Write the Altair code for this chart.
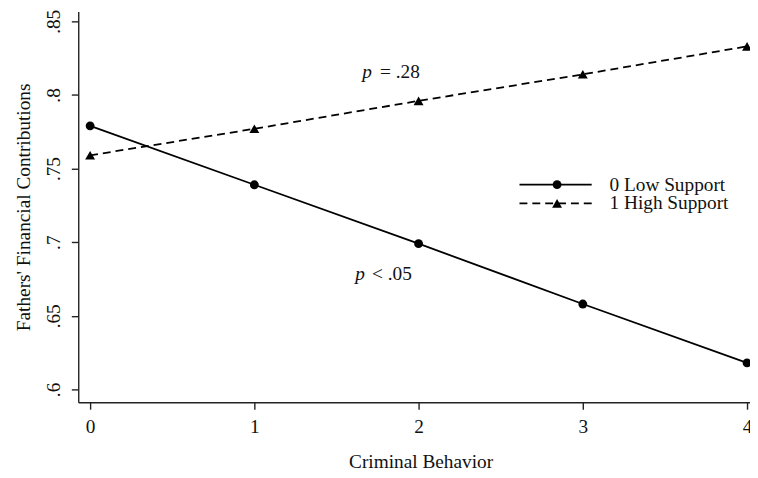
import altair as alt
import pandas as pd

# ---- data ----
criminal = [0, 1, 2, 3, 4]
low_support = [0.779, 0.739, 0.699, 0.658, 0.618]
high_support = [0.759, 0.777, 0.796, 0.814, 0.833]
series_names = ["0 Low Support", "1 High Support"]
x_ticks = [0, 1, 2, 3, 4]
y_ticks = [0.6, 0.65, 0.7, 0.75, 0.8, 0.85]
annot_italic = ["p", "p"]
annot_rest = ["= .28", "< .05"]

FONT = "Liberation Serif"
INK = "#111111"
FS = 19.5

df_low = pd.DataFrame({"x": criminal, "y": low_support})
df_high = pd.DataFrame({"x": criminal, "y": high_support})

xs = alt.Scale(domain=[-0.0723, 4.018], nice=False, zero=False)
ys = alt.Scale(domain=[0.5913, 0.8567], nice=False, zero=False)

x_enc = alt.X("x:Q", scale=xs, title="Criminal Behavior",
              axis=alt.Axis(values=x_ticks, format="d", labelPadding=9,
                            titlePadding=16, titleX=346, titleAlign="center"))
y_enc = alt.Y("y:Q", scale=ys, title="Fathers' Financial Contributions",
              axis=alt.Axis(values=y_ticks,
                            labelExpr="replace(format(datum.value, '.2~f'), '0.', '.')",
                            labelAngle=-90, labelAlign="center",
                            labelBaseline="alphabetic", labelPadding=12,
                            titlePadding=10))

LW = 1.8
low_line = alt.Chart(df_low).mark_line(color="black", strokeWidth=LW).encode(x=x_enc, y=y_enc)
low_pts = alt.Chart(df_low).mark_point(shape="circle", filled=True, color="black",
                                       size=80, opacity=1).encode(x="x:Q", y="y:Q")
high_line = alt.Chart(df_high).mark_line(color="black", strokeWidth=LW,
                                         strokeDash=[8, 5]).encode(x="x:Q", y="y:Q")
high_pts = alt.Chart(df_high).mark_point(shape="triangle-up", filled=True, color="black",
                                         size=100, opacity=1).encode(x="x:Q", y="y:Q")

# annotations (pixel positions inside the plot area)
ann_df = pd.DataFrame({"p": annot_italic, "rest": annot_rest, "row": [0, 1]})
a0 = ann_df[ann_df.row == 0]
a1 = ann_df[ann_df.row == 1]
ann_p1 = alt.Chart(a0).mark_text(
    font=FONT, fontSize=FS, fontStyle="italic", align="left", baseline="alphabetic",
    color=INK).encode(text="p:N", x=alt.value(287), y=alt.value(67))
ann_r1 = alt.Chart(a0).mark_text(
    font=FONT, fontSize=FS, align="left", baseline="alphabetic",
    color=INK).encode(text="rest:N", x=alt.value(305), y=alt.value(67))
ann_p2 = alt.Chart(a1).mark_text(
    font=FONT, fontSize=FS, fontStyle="italic", align="left", baseline="alphabetic",
    color=INK).encode(text="p:N", x=alt.value(280), y=alt.value(271))
ann_r2 = alt.Chart(a1).mark_text(
    font=FONT, fontSize=FS, align="left", baseline="alphabetic",
    color=INK).encode(text="rest:N", x=alt.value(297), y=alt.value(271))

# manual legend
leg_df = pd.DataFrame({"name": series_names})
leg0 = leg_df.iloc[[0]]
leg1 = leg_df.iloc[[1]]
LX0, LX1, LM, LT = 446, 519, 484, 537
LY0, LY1 = 175, 194
leg_line0 = alt.Chart(leg0).mark_rule(color="black", strokeWidth=LW).encode(
    x=alt.value(LX0), x2=alt.value(LX1), y=alt.value(LY0))
leg_pt0 = alt.Chart(leg0).mark_point(shape="circle", filled=True, color="black",
                                     size=80, opacity=1).encode(x=alt.value(LM), y=alt.value(LY0))
leg_txt0 = alt.Chart(leg0).mark_text(font=FONT, fontSize=FS, align="left", baseline="middle",
                                     color=INK).encode(text="name:N", x=alt.value(LT), y=alt.value(LY0))
leg_line1 = alt.Chart(leg1).mark_rule(color="black", strokeWidth=LW, strokeDash=[8, 5]).encode(
    x=alt.value(LX0), x2=alt.value(LX1), y=alt.value(LY1))
leg_pt1 = alt.Chart(leg1).mark_point(shape="triangle-up", filled=True, color="black",
                                     size=100, opacity=1).encode(x=alt.value(LM), y=alt.value(LY1))
leg_txt1 = alt.Chart(leg1).mark_text(font=FONT, fontSize=FS, align="left", baseline="middle",
                                     color=INK).encode(text="name:N", x=alt.value(LT), y=alt.value(LY1))

chart = alt.layer(
    low_line, high_line, low_pts, high_pts,
    ann_p1, ann_r1, ann_p2, ann_r2,
    leg_line0, leg_pt0, leg_txt0, leg_line1, leg_pt1, leg_txt1,
).properties(
    width=679, height=395,
    autosize=alt.AutoSizeParams(type="none"),
    padding={"left": 71, "top": 1, "right": 0, "bottom": 68},
    background="white",
).configure_view(stroke=None).configure_axis(
    grid=False, domainColor="#222", domainWidth=1.4, tickColor="#222", tickWidth=1.4,
    tickSize=7, labelFont=FONT, labelFontSize=FS, labelColor=INK,
    titleFont=FONT, titleFontSize=FS, titleFontWeight="normal", titleColor=INK,
)

chart.save("out.html", embed_options={"renderer": "svg", "actions": False})
